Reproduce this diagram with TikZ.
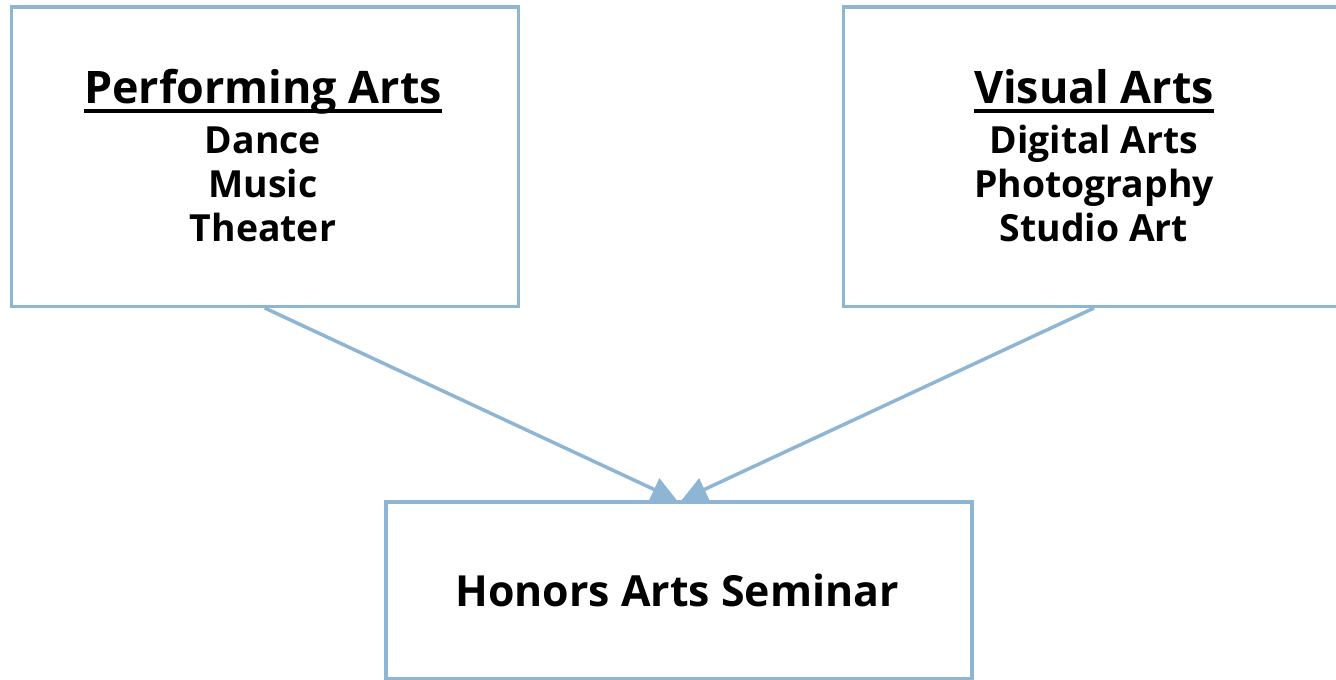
\documentclass[tikz,border=0pt]{standalone}
\usepackage{fontspec}
\setmainfont{Open Sans}
\usetikzlibrary{arrows.meta}
\definecolor{boxblue}{HTML}{8FB5D5}
\begin{document}
\begin{tikzpicture}[x=1bp,y=-1bp,
  box/.style={draw=boxblue, line width=3.5bp, fill=white, inner sep=0pt, anchor=north west},
  item/.style={font=\bfseries\fontsize{37.5}{44}\selectfont, inner sep=0pt, anchor=base},
  head/.style={font=\bfseries\fontsize{45}{50}\selectfont, inner sep=0pt, anchor=base},
  uline/.style={draw=black, line width=3.5bp},
  conn/.style={draw=boxblue, line width=3.5bp, -{Triangle[length=25bp,width=24bp]}}]
\useasboundingbox (0,0) rectangle (1336,679);
\node[box, minimum width=507bp, minimum height=299bp] (pa) at (9.5,5.5) {};
\node[box, minimum width=507bp, minimum height=299bp] (va) at (841.5,5.5) {};
\node[box, minimum width=586bp, minimum height=177bp] (hs) at (384,500) {};
\node[head] (pat) at (263,104) {Performing Arts};
\node[item] (pa1) at (263,153) {Dance};
\node[item] (pa2) at (263,197) {Music};
\node[item] (pa3) at (263,241) {Theater};
\node[head] (vat) at (1094,104) {Visual Arts};
\node[item] (va1) at (1094,153) {Digital Arts};
\node[item] (va2) at (1094,197) {Photography};
\node[item] (va3) at (1094,241) {Studio Art};
\draw[uline] ([yshift=-7bp]pat.base west) -- ([yshift=-7bp]pat.base east);
\draw[uline] ([yshift=-7bp]vat.base west) -- ([yshift=-7bp]vat.base east);
\node[head, font=\bfseries\fontsize{43}{50}\selectfont] (hst) at (677,606) {Honors Arts Seminar};
\coordinate (tl) at ([xshift=-2bp]hs.north);
\coordinate (tr) at ([xshift=3bp]hs.north);
\draw[conn] (pa.south) -- (tl);
\draw[conn] (va.south -| 1094,0) -- (tr);
\end{tikzpicture}
\end{document}
